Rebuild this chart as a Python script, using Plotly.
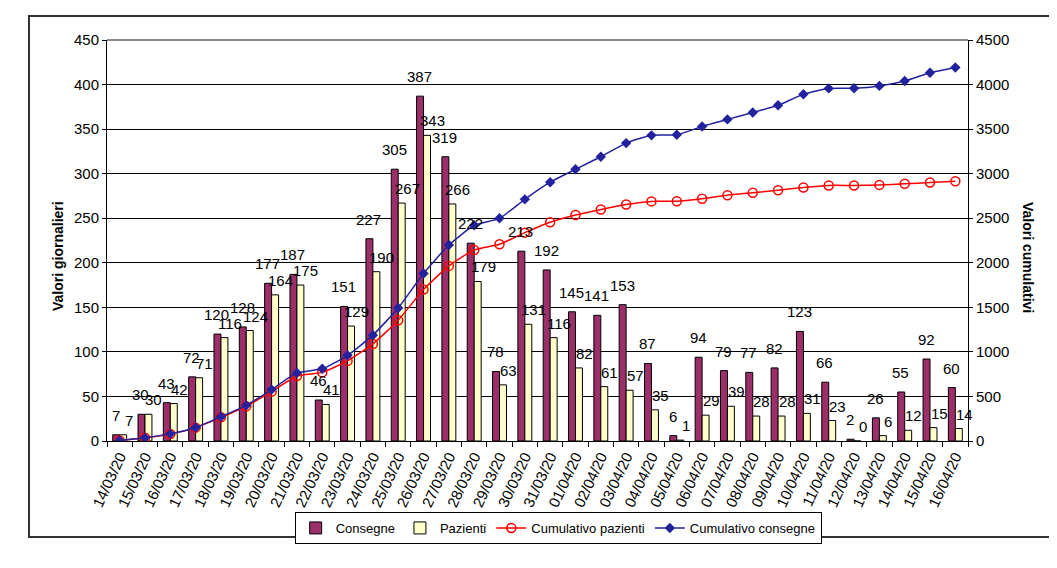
import plotly.graph_objects as go

dates = ["14/03/20","15/03/20","16/03/20","17/03/20","18/03/20","19/03/20","20/03/20","21/03/20",
         "22/03/20","23/03/20","24/03/20","25/03/20","26/03/20","27/03/20","28/03/20","29/03/20",
         "30/03/20","31/03/20","01/04/20","02/04/20","03/04/20","04/04/20","05/04/20","06/04/20",
         "07/04/20","08/04/20","09/04/20","10/04/20","11/04/20","12/04/20","13/04/20","14/04/20",
         "15/04/20","16/04/20"]
consegne = [7,30,43,72,120,128,177,187,46,151,227,305,387,319,222,78,213,192,145,141,153,87,6,94,
            79,77,82,123,66,2,26,55,92,60]
pazienti = [7,30,42,71,116,124,164,175,41,129,190,267,343,266,179,63,131,116,82,61,57,35,1,29,
            39,28,28,31,23,0,6,12,15,14]
cum_pazienti = [7,37,79,150,266,390,554,729,770,899,1089,1356,1699,1965,2144,2207,2338,2454,2536,
                2597,2654,2689,2690,2719,2758,2786,2814,2845,2868,2868,2874,2886,2901,2915]
cum_consegne = [7,37,80,152,272,400,577,764,810,961,1188,1493,1880,2199,2421,2499,2712,2904,3049,
                3190,3343,3430,3436,3530,3609,3686,3768,3891,3957,3959,3985,4040,4132,4192]

FONT = "Arial"

fig = go.Figure()
fig.add_trace(go.Bar(x=dates, y=consegne, name="Consegne",
                     marker=dict(color="#9C2F6A", line=dict(color="black", width=1))))
fig.add_trace(go.Bar(x=dates, y=pazienti, name="Pazienti",
                     marker=dict(color="#FFFFCC", line=dict(color="black", width=1))))
fig.add_trace(go.Scatter(x=dates, y=cum_pazienti, name="Cumulativo pazienti", yaxis="y2",
                         mode="lines+markers", line=dict(color="#FF0000", width=1.5, shape="spline", smoothing=0.5),
                         marker=dict(symbol="circle-open", size=9, color="#FF0000", line=dict(width=1.5))))
fig.add_trace(go.Scatter(x=dates, y=cum_consegne, name="Cumulativo consegne", yaxis="y2",
                         mode="lines+markers", line=dict(color="#22229E", width=1.5, shape="spline", smoothing=0.5),
                         marker=dict(symbol="diamond", size=8, color="#22229E")))

annotations = []
for d, c, p in zip(dates, consegne, pazienti):
    annotations.append(dict(x=d, y=c, xref="x", yref="y", text=str(c), showarrow=False,
                            xshift=-4, yshift=9, yanchor="bottom",
                            font=dict(family=FONT, size=15, color="black")))
    annotations.append(dict(x=d, y=p, xref="x", yref="y", text=str(p), showarrow=False,
                            xshift=9, yshift=4, yanchor="bottom",
                            font=dict(family=FONT, size=15, color="black")))

annotations.append(dict(x=-0.057, y=0.461, xref="paper", yref="paper", text="<b>Valori giornalieri</b>",
                        textangle=-90, showarrow=False, xanchor="center", yanchor="middle",
                        font=dict(family=FONT, size=14, color="black")))
annotations.append(dict(x=1.0697, y=0.459, xref="paper", yref="paper", text="<b>Valori cumulativi</b>",
                        textangle=90, showarrow=False, xanchor="center", yanchor="middle",
                        font=dict(family=FONT, size=14, color="black")))

shapes = [
    dict(type="rect", xref="paper", yref="paper", x0=-0.0906, x1=1.0964, y0=-0.2394, y1=1.0599,
         line=dict(color="#333333", width=2), layer="below"),
    dict(type="line", xref="paper", yref="paper", x0=0, x1=1, y0=1, y1=1,
         line=dict(color="#888888", width=2)),
]

fig.update_layout(
    width=1049, height=560,
    margin=dict(l=99, r=89, t=32, b=127),
    paper_bgcolor="white", plot_bgcolor="white",
    barmode="group", bargap=0.45, bargroupgap=0,
    font=dict(family=FONT, size=15, color="black"),
    showlegend=True,
    legend=dict(orientation="h", x=0.524, y=-0.177, xanchor="center", yanchor="top",
                bordercolor="black", borderwidth=1, bgcolor="white",
                font=dict(family=FONT, size=13, color="black"),
                itemwidth=30, tracegroupgap=0),
    xaxis=dict(type="category", range=[-0.5, len(dates) - 0.5], tickangle=-65, showline=True,
               linecolor="black", linewidth=1,
               ticks="outside", ticklen=5, tickcolor="black", tickson="boundaries",
               showgrid=False, tickfont=dict(family=FONT, size=15)),
    yaxis=dict(range=[0, 450], dtick=50, showgrid=True, gridcolor="black", gridwidth=1,
               showline=True, linecolor="black", linewidth=1, ticks="outside", ticklen=4,
               tickcolor="black", zeroline=False, tickfont=dict(family=FONT, size=15)),
    yaxis2=dict(range=[0, 4500], dtick=500, overlaying="y", side="right", showgrid=False,
                showline=True, linecolor="black", linewidth=1, ticks="outside", ticklen=4,
                tickcolor="black", zeroline=False, tickfont=dict(family=FONT, size=15)),
    annotations=annotations,
    shapes=shapes,
)

fig.write_html("out.html")
